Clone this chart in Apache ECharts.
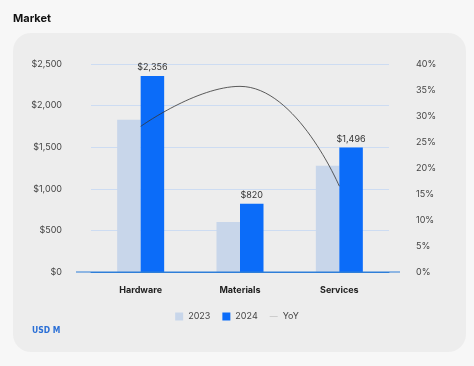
<!DOCTYPE html>
<html><head><meta charset="utf-8">
<script src="https://cdn.jsdelivr.net/npm/echarts@6/dist/echarts.min.js"></script>
<style>html,body{margin:0;padding:0;background:#f7f7f7;}#c{width:474px;height:366px;}</style>
</head><body><div id="c"></div>
<script>
const categories = ['Hardware', 'Materials', 'Services'];
const sales2023 = [1830, 600, 1278];
const sales2024 = [2356, 820, 1496];
const yoy = [28, 35.7, 16.5];
const leftTicks = [0, 2500, 500];
const rightTicks = [0, 40, 5];

const FONT = 'Inter, "Noto Sans", sans-serif';
const chart = echarts.init(document.getElementById('c'), null, {renderer: 'canvas'});
const fmtMoney = v => '$' + Number(v).toLocaleString('en-US');
chart.setOption({
  backgroundColor: 'transparent',
  animation: false,
  textStyle: {fontFamily: FONT},
  grid: {left: 91, right: 85, top: 64, bottom: 94},
  legend: {
    bottom: 40, left: 'center', itemWidth: 8, itemHeight: 8, itemGap: 12, symbolKeepAspect: true,
    textStyle: {color: '#444', fontSize: 9, fontFamily: FONT},
    data: [{name: '2023', icon: 'rect'}, {name: '2024', icon: 'rect'},
           {name: 'YoY', icon: 'path://M0,0 L10,0 L10,0.6 L0,0.6 Z', itemStyle: {color: '#aaa'}}]
  },
  xAxis: {
    type: 'category', data: categories,
    axisLine: {show: true, lineStyle: {color: '#2f7fd8', width: 1}},
    axisTick: {show: false},
    axisLabel: {color: '#222', fontSize: 9, fontWeight: 'bold', margin: 14, fontFamily: FONT}
  },
  yAxis: [
    {type: 'value', min: leftTicks[0], max: leftTicks[1], interval: leftTicks[2],
     axisLine: {show: false}, axisTick: {show: false},
     axisLabel: {color: '#444', fontSize: 9, margin: 29, formatter: fmtMoney},
     splitLine: {lineStyle: {color: '#cddcf2', width: 1}}},
    {type: 'value', min: rightTicks[0], max: rightTicks[1], interval: rightTicks[2],
     axisLine: {show: false}, axisTick: {show: false},
     axisLabel: {color: '#444', fontSize: 9, margin: 27, formatter: '{value}%'},
     splitLine: {show: false}}
  ],
  series: [
    {name: '2023', type: 'bar', data: sales2023, barWidth: 23.5, barGap: '0%',
     itemStyle: {color: '#c8d6ea'}},
    {name: '2024', type: 'bar', data: sales2024, barWidth: 23.5, barGap: '0%',
     itemStyle: {color: '#0b6cf9'},
     label: {show: true, position: 'top', color: '#333', fontSize: 9, distance: 4, formatter: p => fmtMoney(p.value)}},
    {name: 'YoY', type: 'line', yAxisIndex: 1, data: yoy, smooth: true, symbol: 'none', showSymbol: false,
     lineStyle: {color: '#333', width: 0.8}}
  ]
});
const y0 = chart.convertToPixel({yAxisIndex: 0}, 0);
chart.setOption({graphic: [
  {type: 'rect', shape: {x: 13, y: 33, width: 453, height: 319, r: 18}, style: {fill: '#ededed'}, z: -10},
  {type: 'text', left: 13, top: 13, style: {text: 'Market', font: 'bold 11px ' + FONT, fill: '#111'}},
  {type: 'text', left: 32, top: 326, style: {text: 'USD M', font: 'bold 8.5px "DejaVu Sans Condensed", sans-serif', fill: '#2a6fd6'}},
  {type: 'line', shape: {x1: 76, y1: y0, x2: 400, y2: y0}, style: {stroke: '#2f7fd8', lineWidth: 1}, z: 5}
]});
</script></body></html>
